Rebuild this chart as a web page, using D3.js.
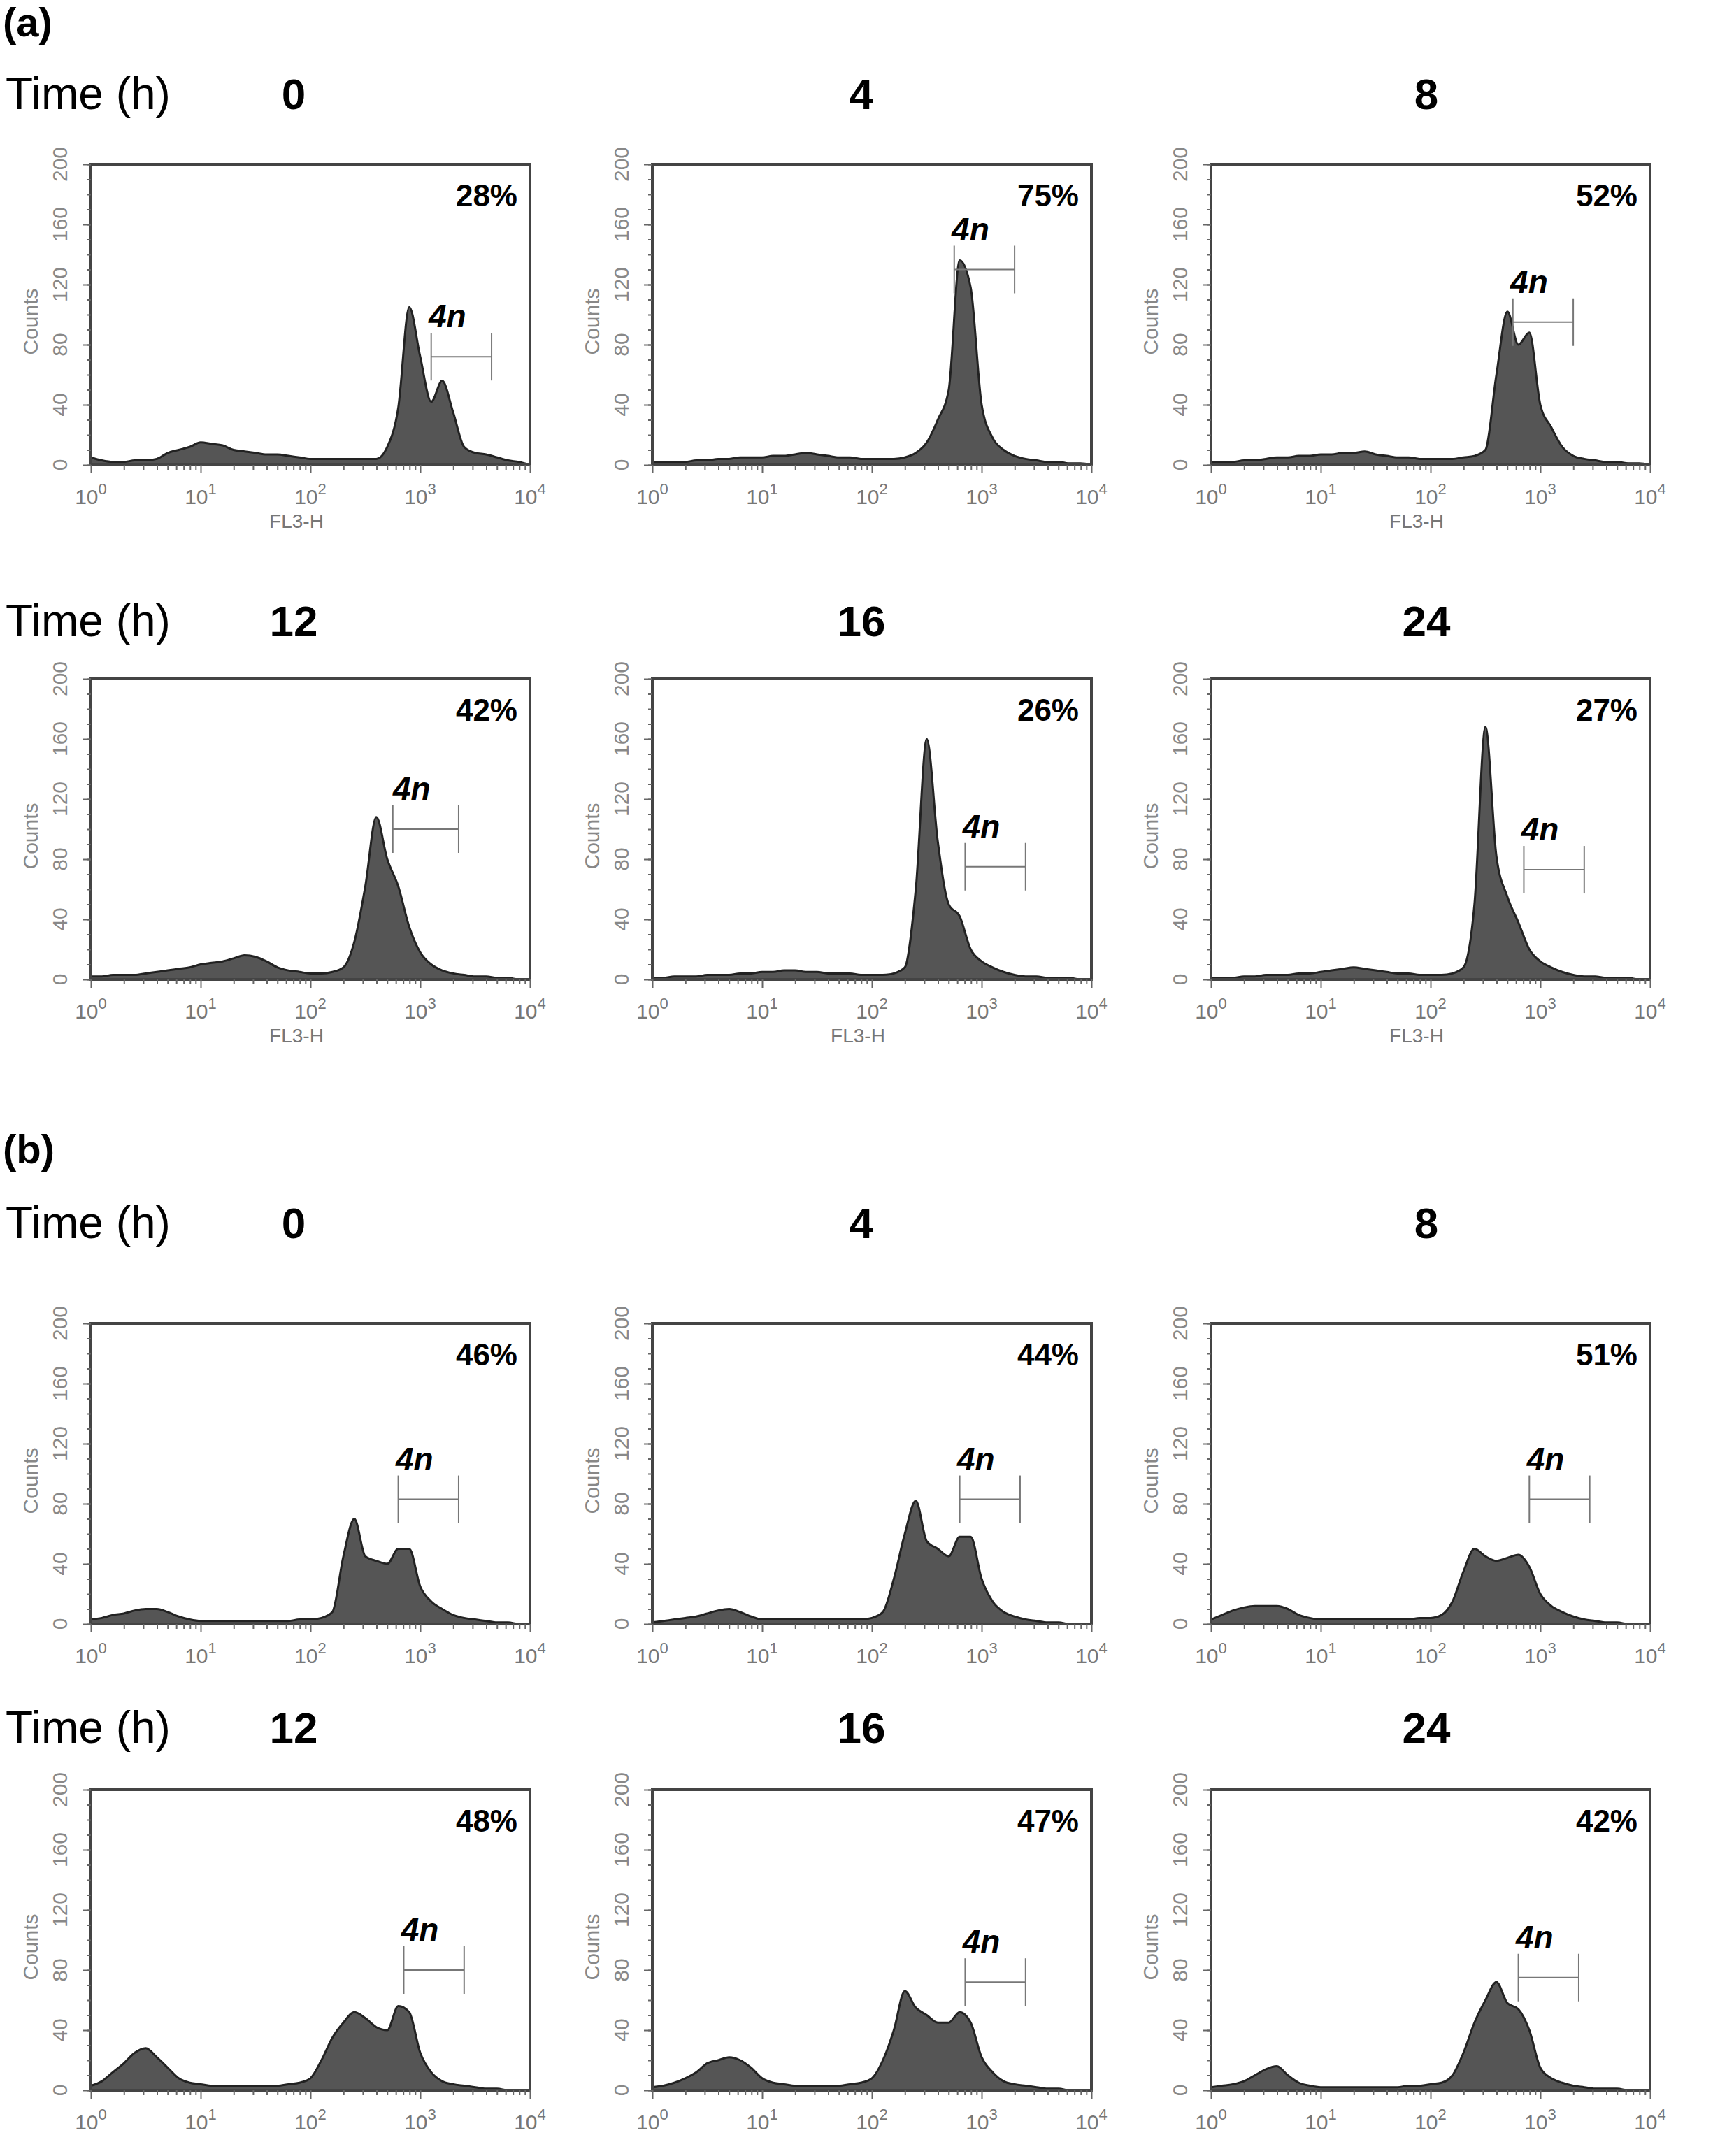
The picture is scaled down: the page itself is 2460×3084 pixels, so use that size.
<!DOCTYPE html>
<html><head><meta charset="utf-8">
<script src="https://cdn.jsdelivr.net/npm/d3@7"></script>
<style>body{margin:0;background:#fff}</style>
</head><body>
<svg id="fig" width="2460" height="3084"></svg>
<script>
// histogram counts at log10(FL3-H) = 0, 0.1, ... 4.0
var a0  = [5,3,2,2,3,3,4,8,10,12,15,14,13,10,9,8,7,7,6,5,4,4,4,4,4,4,4,12,38,105,72,42,56,35,12,8,7,5,3,2,0];
var a4  = [2,2,2,2,3,3,4,4,5,5,5,6,6,7,8,7,6,5,5,4,4,4,4,5,8,15,30,50,136,118,40,18,10,6,4,3,2,2,1,1,0];
var a8  = [2,2,2,3,3,4,5,5,6,6,7,7,8,8,9,7,6,5,5,4,4,4,4,5,6,10,60,102,80,88,40,25,12,6,4,3,2,2,1,1,0];
var a12 = [2,2,3,3,3,4,5,6,7,8,10,11,12,14,16,15,12,8,6,5,4,4,5,8,25,62,108,80,62,35,18,10,6,4,3,2,2,1,1,0,0];
var a16 = [1,1,2,2,2,3,3,3,4,4,5,5,6,6,5,5,4,4,4,3,3,3,4,8,60,160,92,50,42,20,12,8,5,3,2,2,1,1,1,0,0];
var a24 = [1,1,1,2,2,3,3,3,4,4,5,6,7,8,7,6,5,4,4,3,3,3,4,8,50,168,82,55,38,20,12,8,5,3,2,2,1,1,1,0,0];
var b0  = [3,4,6,7,9,10,10,8,5,3,2,2,2,2,2,2,2,2,2,3,3,4,8,45,70,45,42,40,50,50,25,15,10,6,4,3,2,1,1,0,0];
var b4  = [1,2,3,4,5,7,9,10,8,5,3,3,3,3,3,3,3,3,3,3,4,8,30,60,82,55,50,45,58,58,30,15,8,5,3,2,1,1,0,0,0];
var b8  = [3,6,9,11,12,12,12,10,6,4,3,3,3,3,3,3,3,3,3,4,4,6,15,35,50,45,42,44,46,38,20,12,8,5,3,2,1,1,0,0,0];
var b12 = [3,6,12,18,25,28,22,15,8,5,4,3,3,3,3,3,3,3,4,5,8,20,35,45,52,48,42,40,56,52,25,12,6,4,3,2,1,1,0,0,0];
var b16 = [2,3,5,8,12,18,20,22,20,15,8,5,4,3,3,3,3,3,4,5,8,20,40,66,55,50,45,45,52,45,22,12,6,4,3,2,1,1,0,0,0];
var b24 = [2,3,4,6,10,14,16,10,5,3,2,2,2,2,2,2,2,2,3,3,4,5,10,25,45,60,72,58,54,40,15,8,5,3,2,1,1,1,0,0,0];

var hists    = [a0,a4,a8,a12,a16,a24,b0,b4,b8,b12,b16,b24];
var times    = ['0','4','8','12','16','24','0','4','8','12','16','24'];
var percents = ['28%','75%','52%','42%','26%','27%','46%','44%','51%','48%','47%','42%'];
var gateLo   = [3.1,2.75,2.75,2.75,2.85,2.85,2.8,2.8,2.9,2.85,2.85,2.8];
var gateHi   = [3.65,3.3,3.3,3.35,3.4,3.4,3.35,3.35,3.45,3.4,3.4,3.35];
var gateY    = [72,130,95,100,75,73,83,83,83,80,72,75];
var yTicks   = [0,40,80,120,160,200];
var xTicks   = [0,1,2,3,4];

var svg = d3.select('#fig');
var W = 628, H = 430;
var colX = [130, 933, 1732];
var rowY = [235, 971, 1893, 2560];
var titleCX = [420, 1232, 2040];
var titleY = [133, 887, 1748, 2470];

svg.append('text').attr('x',4).attr('y',52).attr('font-family','Liberation Sans, Arial')
  .attr('font-weight','bold').attr('font-size',58).text('(a)');
svg.append('text').attr('x',4).attr('y',1664).attr('font-family','Liberation Sans, Arial')
  .attr('font-weight','bold').attr('font-size',58).text('(b)');

for (var r = 0; r < 4; r++) {
  svg.append('text').attr('x',8).attr('y',titleY[r]+23).attr('font-family','Liberation Sans, Arial')
    .attr('font-size',64).text('Time (h)');
}

var x = d3.scaleLog().domain([1,1e4]).range([0,W]);
var y = d3.scaleLinear().domain([0,200]).range([H,0]);
var minor = [];
for (var d = 0; d < 4; d++) for (var m = 2; m < 10; m++) minor.push(m*Math.pow(10,d));

hists.forEach(function(hv, k){
  var r = Math.floor(k/3), c = k%3;
  var g = svg.append('g').attr('transform','translate('+colX[c]+','+rowY[r]+')');
  var grey = '#666';

  svg.append('text').attr('x',titleCX[c]).attr('y',titleY[r]+23).attr('text-anchor','middle')
    .attr('font-family','Liberation Sans, Arial').attr('font-weight','bold').attr('font-size',62).text(times[k]);

  var area = d3.area().curve(d3.curveMonotoneX)
    .x(function(v,i){ return x(Math.pow(10,i/10)); })
    .y0(y(0)).y1(function(v){ return y(v); });
  g.append('path').datum(hv).attr('d',area).attr('fill','#555').attr('stroke','#222').attr('stroke-width',3);

  g.append('rect').attr('width',W).attr('height',H).attr('fill','none').attr('stroke','#444').attr('stroke-width',4);

  // y axis
  g.append('g').call(d3.axisLeft(y).tickValues(yTicks).tickSize(12).tickFormat(''));
  g.append('g').call(d3.axisLeft(y).tickValues(d3.range(0,201,10)).tickSize(6).tickFormat(''));
  g.selectAll('.domain').remove();
  g.selectAll('.tick line').attr('stroke',grey).attr('stroke-width',2);
  yTicks.forEach(function(t){
    g.append('text').attr('transform','translate(-34,'+y(t)+') rotate(-90)').attr('text-anchor','middle')
      .attr('font-family','Liberation Sans, Arial').attr('font-size',30).attr('fill','#888').text(t);
  });
  g.append('text').attr('transform','translate(-76,'+(H/2+10)+') rotate(-90)').attr('text-anchor','middle')
    .attr('font-family','Liberation Sans, Arial').attr('font-size',30).attr('fill','#888').text('Counts');

  // x axis
  var xa = g.append('g').attr('transform','translate(0,'+H+')');
  xa.call(d3.axisBottom(x).tickValues(xTicks.map(function(e){return Math.pow(10,e);})).tickSize(12).tickFormat(''));
  xa.append('g').call(d3.axisBottom(x).tickValues(minor).tickSize(7).tickFormat(''));
  xa.selectAll('.domain').remove();
  xa.selectAll('.tick line').attr('stroke',grey).attr('stroke-width',2);
  xTicks.forEach(function(e){
    var t = g.append('text').attr('x',x(Math.pow(10,e))).attr('y',H+56).attr('text-anchor','middle')
      .attr('font-family','Liberation Sans, Arial').attr('font-size',30).attr('fill','#777');
    t.append('tspan').text('10');
    t.append('tspan').attr('dy',-14).attr('font-size',22).text(e);
  });
  if (r < 2 && c !== 1 || (r === 1 && c === 1)) {
    g.append('text').attr('x',W/2-20).attr('y',H+90).attr('text-anchor','middle')
      .attr('font-family','Liberation Sans, Arial').attr('font-size',28).attr('fill','#777').text('FL3-H');
  }

  // gate
  var gx0 = x(Math.pow(10,gateLo[k])), gx1 = x(Math.pow(10,gateHi[k])), gy = y(gateY[k]);
  g.append('line').attr('x1',gx0).attr('x2',gx1).attr('y1',gy).attr('y2',gy).attr('stroke','#777').attr('stroke-width',2);
  [gx0,gx1].forEach(function(px){
    g.append('line').attr('x1',px).attr('x2',px).attr('y1',gy-34).attr('y2',gy+34).attr('stroke','#777').attr('stroke-width',2);
  });
  g.append('text').attr('x',(gx0+gx1)/2-20).attr('y',gy-42).attr('text-anchor','middle')
    .attr('font-family','Liberation Sans, Arial').attr('font-weight','bold').attr('font-style','italic')
    .attr('font-size',46).text('4n');
  g.append('text').attr('x',W-18).attr('y',60).attr('text-anchor','end')
    .attr('font-family','Liberation Sans, Arial').attr('font-weight','bold').attr('font-size',44).text(percents[k]);
});
</script>
</body></html>
